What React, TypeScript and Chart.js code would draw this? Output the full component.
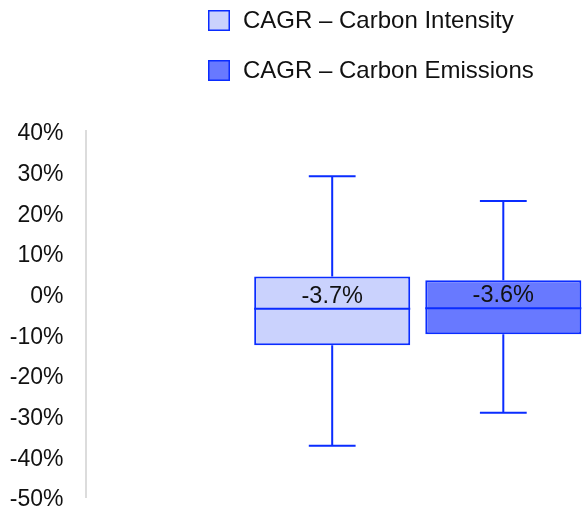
import React, { useEffect, useRef } from "react";
import { Chart, registerables } from "chart.js";

Chart.register(...registerables);

const categories = ["CAGR"];
const seriesNames = ["CAGR – Carbon Intensity", "CAGR – Carbon Emissions"];
const whiskerMin = [-37.4, -29.3];
const quartile1 = [-12.7, -10.0];
const medianValues = [-3.7, -3.6];
const quartile3 = [4.2, 3.3];
const whiskerMax = [28.9, 22.8];
const fillColors = ["#cad2fd", "#6879ff"];
const lineColor = "#0a2cff";
const yMin = -50;
const yMax = 40;
const yStep = 10;

const FONT = "'Liberation Sans', Arial, sans-serif";

const boxPlugin = {
  id: "boxExtras",
  afterDatasetsDraw(chart: any) {
    const ctx = chart.ctx;
    const y = chart.scales.y;
    chart.data.datasets.forEach((ds: any, i: number) => {
      const meta = chart.getDatasetMeta(i);
      meta.data.forEach((bar: any) => {
        const cx = bar.x;
        const w = bar.width;
        const capHalf = w * 0.15;
        const pMax = y.getPixelForValue(whiskerMax[i]);
        const pMin = y.getPixelForValue(whiskerMin[i]);
        const pQ1 = y.getPixelForValue(quartile1[i]);
        const pQ3 = y.getPixelForValue(quartile3[i]);
        const pMed = y.getPixelForValue(medianValues[i]);
        ctx.save();
        ctx.strokeStyle = lineColor;
        ctx.lineWidth = 2;
        ctx.beginPath();
        ctx.moveTo(cx, pQ3);
        ctx.lineTo(cx, pMax);
        ctx.moveTo(cx - capHalf, pMax);
        ctx.lineTo(cx + capHalf, pMax);
        ctx.moveTo(cx, pQ1);
        ctx.lineTo(cx, pMin);
        ctx.moveTo(cx - capHalf, pMin);
        ctx.lineTo(cx + capHalf, pMin);
        ctx.moveTo(cx - w / 2, pMed);
        ctx.lineTo(cx + w / 2, pMed);
        ctx.stroke();
        ctx.fillStyle = "#111";
        ctx.font = `23.5px ${FONT}`;
        ctx.textAlign = "center";
        ctx.textBaseline = "alphabetic";
        ctx.fillText(medianValues[i].toFixed(1) + "%", cx, pMed - 6);
        ctx.restore();
      });
    });
  },
  afterDraw(chart: any) {
    const ctx = chart.ctx;
    ctx.save();
    seriesNames.forEach((name, i) => {
      const top = 10 + i * 50;
      ctx.fillStyle = fillColors[i];
      ctx.fillRect(208, top, 22, 21);
      ctx.strokeStyle = lineColor;
      ctx.lineWidth = 1.5;
      ctx.strokeRect(208.75, top + 0.75, 20.5, 19.5);
      ctx.fillStyle = "#111";
      ctx.font = `24px ${FONT}`;
      ctx.textAlign = "left";
      ctx.textBaseline = "middle";
      ctx.fillText(name, 243, top + 11);
    });
    ctx.restore();
  },
};

export default function App() {
  const ref = useRef<HTMLCanvasElement>(null);
  useEffect(() => {
    if (!ref.current) return;
    const chart = new Chart(ref.current, {
      type: "bar",
      data: {
        labels: categories,
        datasets: seriesNames.map((name, i) => ({
          label: name,
          data: [[quartile1[i], quartile3[i]]] as any,
          backgroundColor: fillColors[i],
          borderColor: lineColor,
          borderWidth: 2,
          borderSkipped: false,
          categoryPercentage: 0.515,
          barPercentage: 0.912,
        })),
      },
      options: {
        responsive: false,
        animation: false,
        devicePixelRatio: 1,
        layout: { padding: { top: 131, bottom: 15, left: 10, right: 0 } },
        plugins: {
          legend: { display: false },
          tooltip: { enabled: false },
        },
        scales: {
          x: { display: false },
          y: {
            min: yMin,
            max: yMax,
            afterFit: (scale: any) => {
              scale.width = 75.5;
              scale.paddingTop = 0;
              scale.paddingBottom = 0;
            },
            grid: { display: false, drawTicks: false },
            border: { display: true, color: "#dcdcdc", width: 2 },
            ticks: {
              stepSize: yStep,
              padding: 22,
              labelOffset: 3,
              color: "#111",
              font: { family: FONT, size: 23 },
              callback: (v: any) => `${v}%`,
            },
          },
        },
      } as any,
      plugins: [boxPlugin],
    });
    return () => chart.destroy();
  }, []);
  return (
    <div
      style={{
        position: "fixed",
        left: 0,
        top: 0,
        width: 584,
        height: 512,
        overflow: "hidden",
        background: "#fff",
      }}
    >
      <canvas ref={ref} width={750} height={512} style={{ width: 750, height: 512, display: "block" }} />
    </div>
  );
}
